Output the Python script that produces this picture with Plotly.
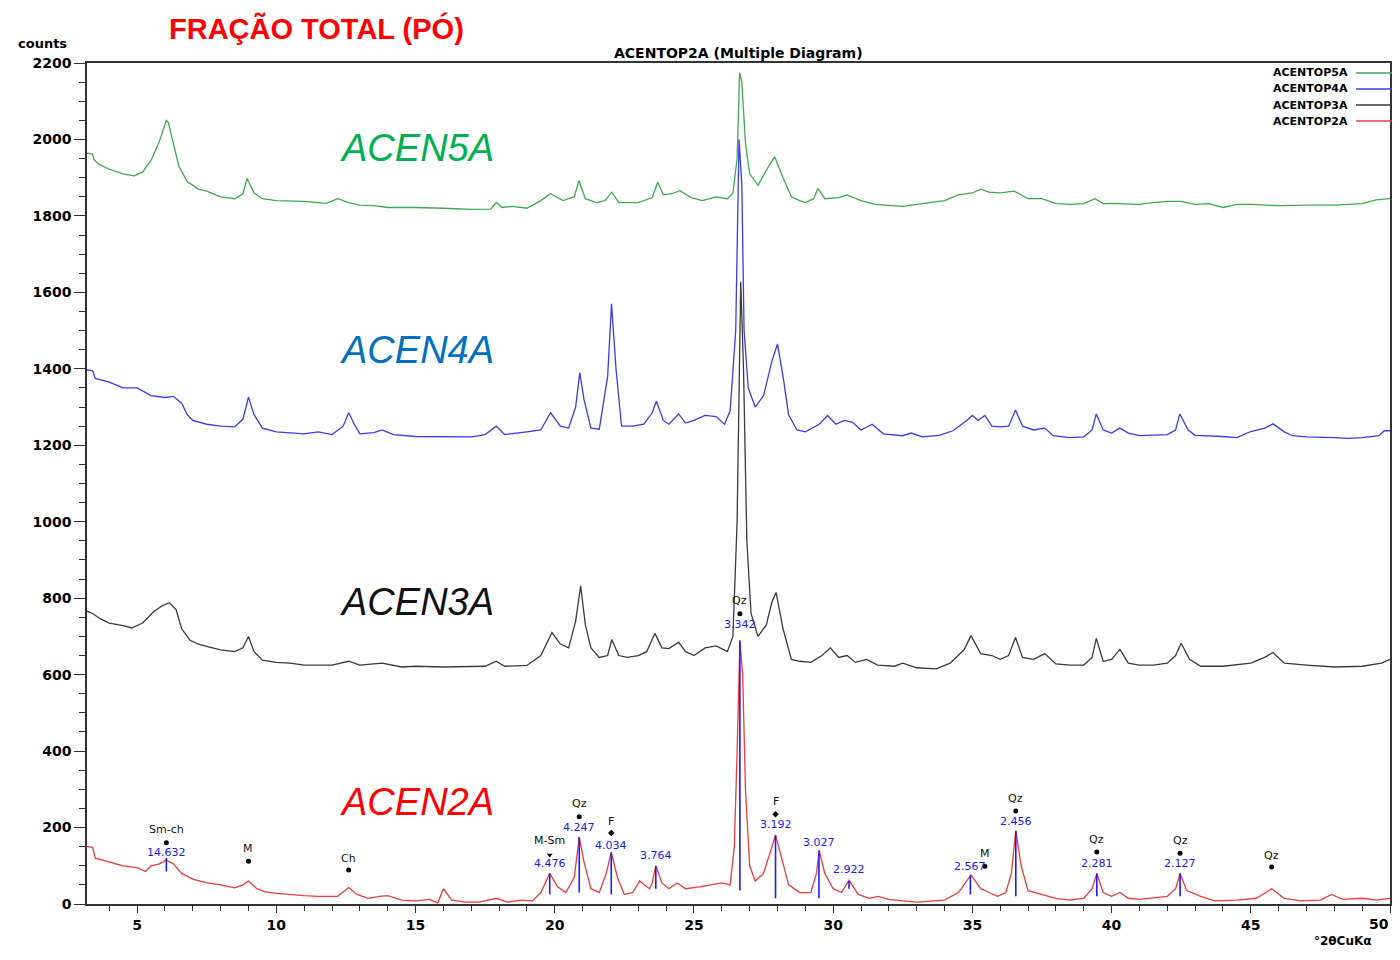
import plotly.graph_objects as go

# ---------------- data ----------------
x5 = [3.2,3.4,3.45,3.6,4.0,4.5,4.9,5.2,5.5,5.8,6.05,6.12,6.3,6.5,6.8,7.2,7.5,8.0,8.5,8.8,8.95,9.2,9.5,10,11,11.8,12.2,12.6,13,13.5,14,15,16,17,17.7,17.9,18.1,18.5,19,19.5,19.85,20.3,20.7,20.87,21.1,21.5,21.8,22.05,22.3,23,23.5,23.7,23.9,24.2,24.5,24.9,25.3,25.8,26.2,26.4,26.55,26.64,26.72,26.85,27.0,27.3,27.6,27.9,28.2,28.5,28.8,29.0,29.3,29.45,29.7,30.2,30.5,31,31.5,32,32.5,33,34,34.5,35,35.3,35.6,36,36.5,37,37.5,38,38.5,39,39.4,39.7,40,41,41.5,42,42.5,43,43.5,44,44.5,45,46,47,48,49,49.5,50]
y5 = [1964,1962,1948,1936,1922,1910,1905,1915,1945,1995,2050,2045,1990,1930,1890,1870,1865,1850,1845,1858,1898,1860,1845,1840,1838,1833,1845,1835,1828,1827,1822,1822,1820,1817,1818,1835,1822,1825,1820,1840,1858,1840,1850,1892,1845,1835,1840,1862,1835,1835,1848,1888,1855,1858,1866,1848,1840,1850,1845,1860,1950,2175,2150,1990,1910,1880,1920,1955,1900,1850,1840,1835,1845,1872,1845,1848,1855,1840,1830,1828,1825,1830,1840,1855,1860,1870,1862,1860,1865,1845,1845,1832,1830,1832,1845,1832,1833,1830,1835,1838,1838,1830,1832,1822,1830,1830,1827,1828,1828,1832,1842,1845]

x4 = [3.2,3.4,3.5,4.0,4.5,5.0,5.5,6.0,6.3,6.6,6.8,7.0,7.5,8.0,8.5,8.8,9.0,9.2,9.5,10,11,11.5,12,12.4,12.6,12.8,13,13.5,13.8,14.2,15,16,17,17.5,17.9,18.2,18.5,19,19.5,19.85,20.2,20.5,20.75,20.9,21.05,21.3,21.6,21.9,22.04,22.2,22.4,22.8,23.2,23.5,23.65,23.9,24.1,24.45,24.7,25.0,25.4,25.8,26.1,26.3,26.5,26.62,26.72,26.8,26.95,27.2,27.5,27.8,28.0,28.2,28.4,28.7,29.0,29.5,29.8,30.1,30.4,30.7,31.0,31.4,31.8,32.5,32.8,33.2,33.8,34.3,34.8,35.0,35.2,35.45,35.7,36.0,36.3,36.55,36.8,37.2,37.6,37.9,38.5,39.0,39.3,39.45,39.7,40.0,40.3,40.6,41.0,42.0,42.3,42.45,42.75,43.0,44,44.5,45,45.5,45.8,46.2,46.5,47,48,48.5,49,49.6,49.8,50]
y4 = [1397,1395,1375,1365,1350,1350,1330,1325,1328,1310,1280,1265,1255,1250,1248,1268,1326,1280,1245,1235,1230,1235,1228,1250,1285,1255,1230,1233,1240,1228,1223,1223,1222,1228,1250,1228,1230,1235,1240,1285,1250,1245,1300,1390,1320,1245,1242,1380,1570,1400,1250,1250,1255,1285,1315,1265,1255,1282,1258,1265,1278,1275,1255,1290,1500,2000,1880,1500,1350,1300,1330,1420,1465,1380,1280,1240,1235,1255,1278,1255,1265,1260,1240,1255,1230,1225,1232,1222,1226,1238,1265,1278,1265,1278,1250,1248,1250,1292,1250,1240,1245,1225,1220,1222,1240,1282,1240,1232,1245,1232,1225,1228,1240,1282,1240,1226,1223,1220,1236,1245,1256,1235,1225,1222,1220,1218,1220,1225,1238,1238]

x3 = [3.2,3.4,3.7,4.0,4.5,4.8,5.2,5.6,5.9,6.15,6.4,6.6,6.9,7.2,7.6,8.0,8.5,8.8,9.0,9.2,9.5,10,10.5,11,12,12.6,13,13.8,14.5,15,16,17.5,17.9,18.2,19,19.5,19.9,20.2,20.5,20.75,20.93,21.1,21.3,21.6,21.9,22.05,22.3,22.6,23.0,23.3,23.6,23.85,24.1,24.45,24.7,25.0,25.4,25.8,26.2,26.4,26.55,26.68,26.78,26.9,27.05,27.3,27.6,27.8,27.95,28.2,28.5,28.8,29.2,29.6,29.9,30.2,30.5,30.8,31.2,31.6,32.2,32.5,33,33.7,34.2,34.7,34.95,35.3,35.7,36.0,36.3,36.55,36.8,37.2,37.6,38.0,38.5,39.0,39.3,39.45,39.7,40.0,40.3,40.6,41,41.5,42.0,42.3,42.5,42.8,43.2,44,45,45.5,45.8,46.2,47,48,49,49.7,50]
y3 = [766,760,745,735,728,722,735,765,780,788,770,720,690,680,672,665,660,670,700,660,638,632,630,625,625,635,625,630,620,622,620,622,635,622,624,650,710,680,670,740,832,730,670,645,650,692,650,645,650,660,708,670,668,685,660,650,670,675,660,700,1000,1628,1400,950,760,700,730,790,815,720,640,635,632,650,670,645,650,632,640,625,622,630,618,615,630,665,702,655,650,640,650,697,645,640,655,628,625,625,645,695,635,640,666,630,625,625,630,650,682,640,622,622,630,645,658,630,625,620,622,630,640]

x2 = [3.2,3.4,3.5,4.0,4.5,5.0,5.3,5.5,5.8,6.05,6.3,6.6,7.0,7.5,8.0,8.5,8.8,9.0,9.3,9.6,10,11,11.5,12.2,12.6,12.9,13.3,13.7,14.0,14.5,15,15.5,15.8,16.0,16.3,16.8,17.3,17.9,18.3,18.8,19.2,19.5,19.82,20.1,20.4,20.7,20.88,21.05,21.3,21.6,21.85,22.03,22.25,22.5,22.8,23.05,23.4,23.5,23.63,23.85,24.1,24.4,24.7,25.2,25.6,26.0,26.3,26.45,26.55,26.65,26.75,26.85,27.0,27.2,27.5,27.75,27.93,28.15,28.4,28.8,29.2,29.4,29.5,29.7,30.0,30.3,30.57,30.9,31.3,31.6,32,32.5,33,34,34.5,34.95,35.3,35.6,35.9,36.2,36.4,36.56,36.75,37.0,37.5,38,38.5,39.0,39.3,39.47,39.7,40.0,40.3,40.6,41,42,42.3,42.46,42.7,43.2,43.7,44.5,45.2,45.75,46.2,46.8,47.5,47.9,48.3,49,49.5,50]
y2 = [150,148,120,110,100,95,85,100,105,115,105,80,65,55,50,42,50,60,40,32,28,22,20,20,43,25,15,20,22,10,8,12,3,40,10,5,5,15,5,10,8,30,80,45,30,70,175,110,40,30,80,135,70,25,30,60,40,55,100,55,40,55,40,45,50,55,50,150,400,685,600,300,100,60,80,140,180,120,50,30,30,80,140,80,40,30,62,25,15,20,12,8,5,10,30,76,40,30,20,30,80,192,100,35,25,15,10,15,40,80,30,20,30,15,12,20,40,80,35,20,8,10,15,40,15,8,10,25,12,15,10,15]

# reference peak sticks (ACEN2A) and their d-spacings
stick_x = [6.05,19.82,20.88,22.03,23.63,26.65,27.93,29.49,30.57,34.93,36.56,39.47,42.46]
stick_lo = [85,25,30,25,40,35,15,15,40,25,20,20,20]
stick_hi = [120,80,175,135,100,690,180,140,60,75,190,80,80]
stick_d = ["14.632","4.476","4.247","4.034","3.764","3.342","3.192","3.027","2.922","2.567","2.456","2.281","2.127"]
d_label_y = [136,105,199,154,126,730,207,162,89,99,215,107,105]

# mineral identifications
min_name = ["Sm-ch","M","Ch","M-Sm","Qz","F","Qz","F","M","Qz","Qz","Qz","Qz"]
min_x = [6.05,9.0,12.6,19.82,20.88,22.03,26.65,27.93,35.45,36.56,39.47,42.46,45.75]
min_text_y = [196,144,120,165,262,217,793,269,131,277,170,167,128]
min_mark_y = [160,112,89,128,228,186,759,235,99,243,136,133,97]
min_symbol = ["circle","circle","circle","triangle-down","circle","diamond","circle","diamond","circle","circle","circle","circle","circle"]

series_names = ["ACENTOP5A","ACENTOP4A","ACENTOP3A","ACENTOP2A"]
sample_names = ["ACEN5A","ACEN4A","ACEN3A","ACEN2A"]
sample_label_y = [1978,1449,790,267]
x_ticks = [5,10,15,20,25,30,35,40,45,50]
y_ticks = [0,200,400,600,800,1000,1200,1400,1600,1800,2000,2200]

# ---------------- styles ----------------
line_colors = ["#3cab4a", "#3a3af0", "#3a3a3a", "#f23a3a"]
label_colors = ["#00b050", "#0070c0", "#111111", "#ff0000"]
FONT = "Liberation Sans, Arial, sans-serif"
DV = "DejaVu Sans, sans-serif"

OFF = 8                       # page body margin
W, H = 1400 - 2 * OFF, 960 - 2 * OFF
# plot area in page pixels: x 87..1390, y 63..904
L, T = 87 - OFF, 63 - OFF
R = W - (1390 - OFF)
B = H - (904 - OFF)
pw, ph = W - L - R, H - T - B


def px2paper(px, py):
    return (px - OFF - L) / pw, (H - B - (py - OFF)) / ph


fig = go.Figure()
for xs, ys, nm, c in zip([x5, x4, x3, x2], [y5, y4, y3, y2], series_names, line_colors):
    fig.add_trace(go.Scatter(x=xs, y=ys, mode="lines", name=nm,
                             line=dict(color=c, width=1.3), showlegend=False))

# sticks
sx, sy = [], []
for xv, lo, hi in zip(stick_x, stick_lo, stick_hi):
    sx += [xv, xv, None]
    sy += [lo, hi, None]
fig.add_trace(go.Scatter(x=sx, y=sy, mode="lines", line=dict(color="#1a1aff", width=1.6),
                         showlegend=False, hoverinfo="skip"))

# mineral markers
fig.add_trace(go.Scatter(x=min_x, y=min_mark_y, mode="markers",
                         marker=dict(color="black", size=5, symbol=min_symbol),
                         showlegend=False, hoverinfo="skip"))

ann = []
for xv, yv, t in zip(stick_x, d_label_y, stick_d):
    ann.append(dict(x=xv, y=yv, text=t, showarrow=False, xref="x", yref="y",
                    font=dict(family=DV, size=11, color="#1a1aff")))
for xv, yv, t in zip(min_x, min_text_y, min_name):
    ann.append(dict(x=xv, y=yv, text=t, showarrow=False, xref="x", yref="y",
                    font=dict(family=DV, size=11, color="#111")))
for t, yv, c in zip(sample_names, sample_label_y, label_colors):
    ann.append(dict(x=15.07, y=yv, text="<i>" + t + "</i>", showarrow=False, xref="x", yref="y",
                    font=dict(family=FONT, size=38, color=c)))

ann_fixed = [
    dict(text="<b>FRAÇÃO TOTAL (PÓ)</b>", px=316, py=29, size=29, color="#ff0000", fam=FONT),
    dict(text="<b>ACENTOP2A (Multiple Diagram)</b>", px=738, py=53, size=14, color="#000", fam=DV),
    dict(text="<b>counts</b>", px=42, py=43, size=13, color="#000", fam=DV),
    dict(text="<b>°2θCuKα</b>", px=1343, py=941, size=12, color="#000", fam=DV),
]
for a in ann_fixed:
    xp, yp = px2paper(a["px"], a["py"])
    ann.append(dict(x=xp, y=yp, xref="paper", yref="paper", xanchor="center", yanchor="middle",
                    text=a["text"], showarrow=False,
                    font=dict(family=a["fam"], size=a["size"], color=a["color"])))

# last x tick label sits at the page edge: place it so it stays fully visible
xl, yl = px2paper(1391, 924)
ann.append(dict(x=xl, y=yl, xref="paper", yref="paper", xanchor="right", yanchor="middle",
                text="<b>%d</b>" % x_ticks[-1], showarrow=False,
                font=dict(family=DV, size=14, color="#000")))

# legend drawn at top-right (text then line, as in the original)
shapes = []
for i, (nm, c) in enumerate(zip(series_names, line_colors)):
    py = 73 + 16 * i
    xt, yp = px2paper(1350, py)
    x0, _ = px2paper(1356, py)
    x1, _ = px2paper(1392, py)
    ann.append(dict(x=xt, y=yp, xref="paper", yref="paper", text="<b>" + nm + "</b>",
                    showarrow=False, xanchor="right", yanchor="middle",
                    font=dict(family=DV, size=11, color="#000")))
    shapes.append(dict(type="line", xref="paper", yref="paper",
                       x0=x0, x1=x1, y0=yp, y1=yp, line=dict(color=c, width=1.3)))

fig.update_layout(
    width=W, height=H,
    margin=dict(l=L, r=R, t=T, b=B, autoexpand=False),
    paper_bgcolor="white", plot_bgcolor="white",
    annotations=ann, shapes=shapes,
    showlegend=False,
    font=dict(family=FONT, color="#000"),
)
fig.update_xaxes(range=[3.2, 50], tickvals=x_ticks,
                 ticktext=["<b>%d</b>" % v if v != x_ticks[-1] else " " for v in x_ticks],
                 showgrid=False, zeroline=False, showline=True, linecolor="#333", linewidth=1.5,
                 mirror=True, ticks="outside", ticklen=7, tickwidth=1.3, tickcolor="#333",
                 automargin=False,
                 tickfont=dict(family=DV, size=14, color="#000"),
                 minor=dict(dtick=1, ticks="outside", ticklen=5, tickcolor="#333", tickwidth=1, showgrid=False))
fig.update_yaxes(range=[0, 2200], tickvals=y_ticks, ticktext=["<b>%d</b>" % v for v in y_ticks],
                 showgrid=False, zeroline=False, showline=True, linecolor="#333", linewidth=1.5,
                 mirror=True, ticks="outside", ticklen=11, tickwidth=1.3, tickcolor="#333",
                 automargin=False,
                 tickfont=dict(family=DV, size=14, color="#000"),
                 minor=dict(dtick=50, ticks="outside", ticklen=6, tickcolor="#333", tickwidth=1, showgrid=False))

fig.write_html("out.html")
